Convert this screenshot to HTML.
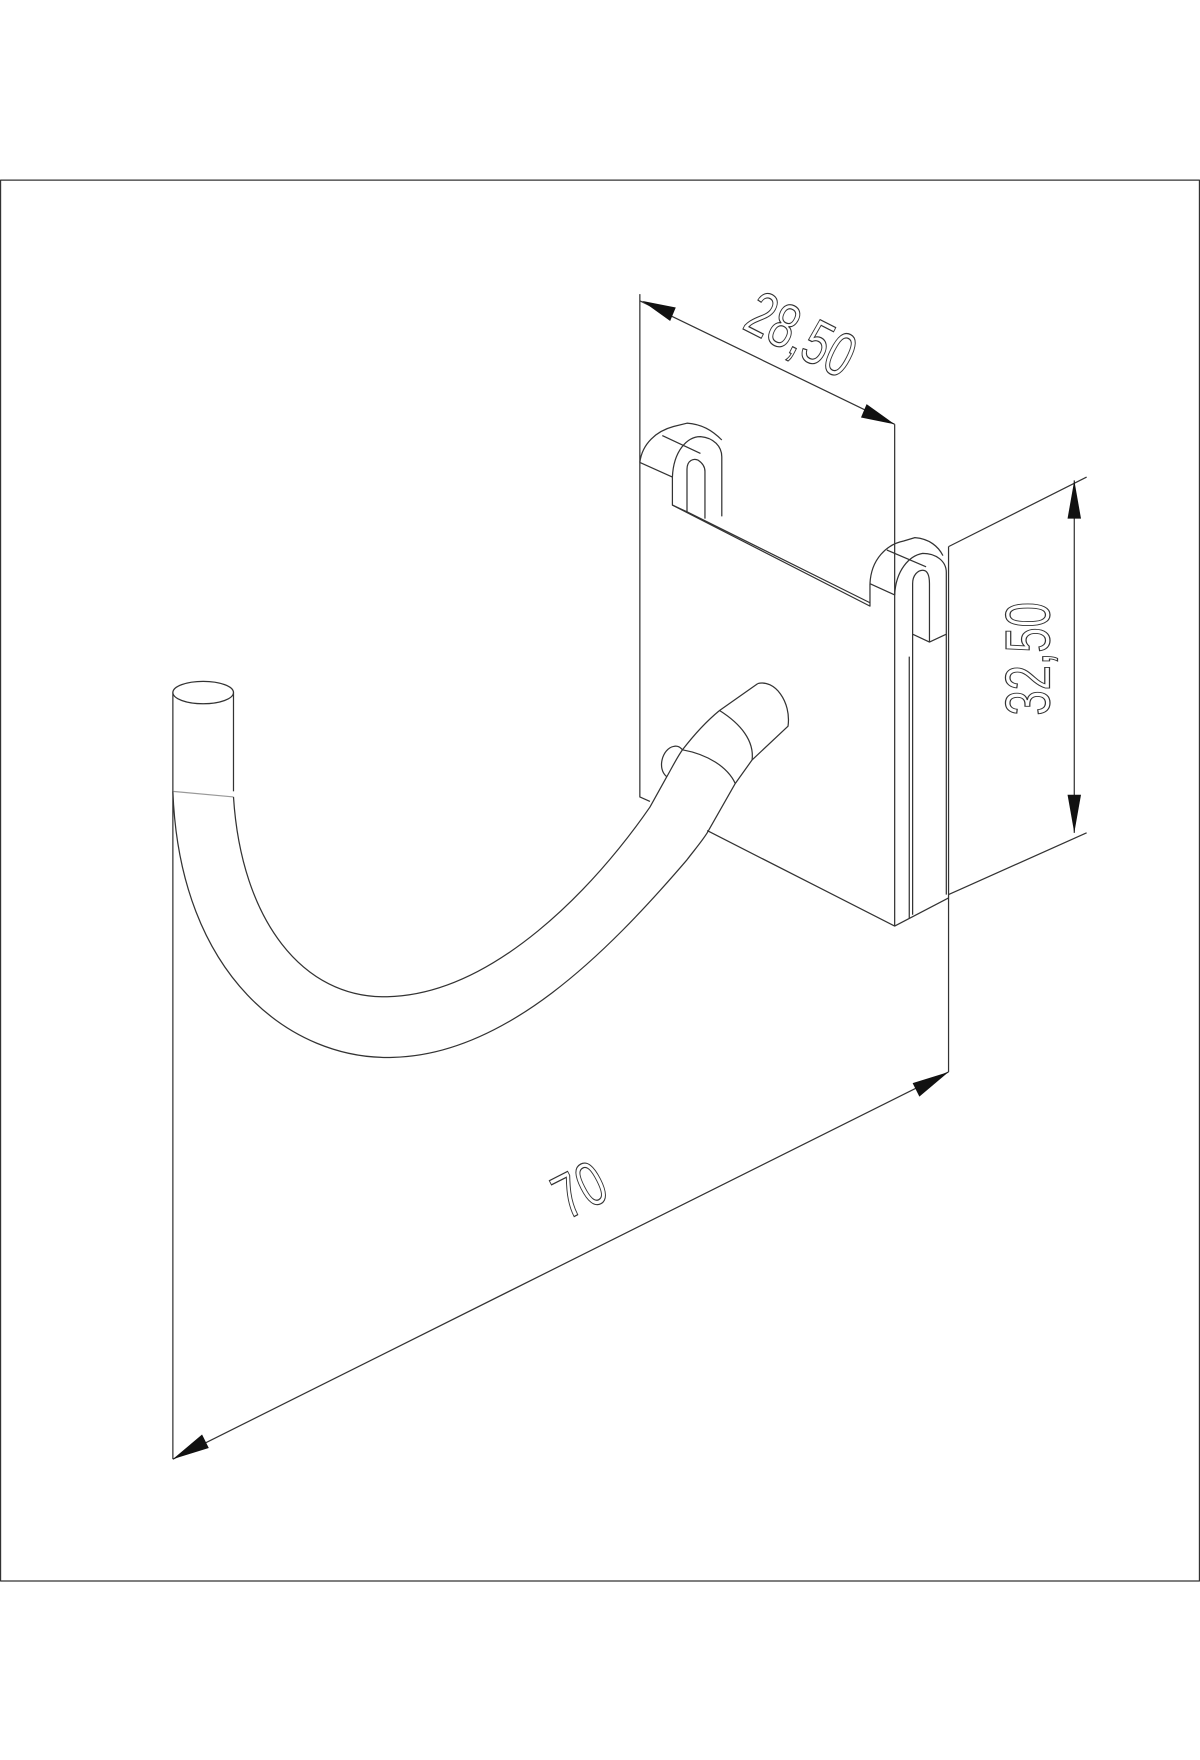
<!DOCTYPE html>
<html><head><meta charset="utf-8"><style>html,body{margin:0;padding:0;background:#fff}svg{display:block}</style></head>
<body>
<svg width="1200" height="1760" viewBox="0 0 1069 1568" preserveAspectRatio="none" xmlns="http://www.w3.org/2000/svg">
<g fill="none" stroke="#333" stroke-width="1.1" stroke-linejoin="round">
<rect x="0.5" y="160.5" width="1068" height="1248"/>
<!-- plate -->
<path d="M570 262 V710 L579 714"/>
<path d="M630 740 L797 825 V378"/>
<path d="M797 825 L845 800"/>
<path d="M845 487 V955"/>
<path d="M810 585 V818"/>
<!-- left tab -->
<path d="M570 412 C572 395 585 384 600 380 L612 377 C625 378 634 383 643 392"/>
<path d="M570 412 L599 425 C600 402 612 389 624 389 C636 390 643 398 643 407 V460"/>
<path d="M599 425 V450 L612 456 V418 C612 410 618 408 622 410 C625 412 628 415 628 420 V462"/>
<path d="M599 450 L775 540 V520"/>
<path d="M612 456 L775 537"/>
<path d="M590 388 L624 404"/>
<!-- right tab -->
<path d="M775 520 C776 498 790 485 805 482 L815 479 C828 480 836 487 840 495"/>
<path d="M775 520 L797 530 C798 508 810 495 822 493 C834 493 843 500 843 510 V565 L828 572 L813 565 V520 C813 512 818 508 822 508 C826 508 828 512 828 520 V572"/>
<path d="M790 490 L825 505"/>
<path d="M813 565 V815"/>
<path d="M843 565 V797"/>
<!-- hook -->
<ellipse cx="181" cy="617" rx="27" ry="10"/>
<path d="M154 617 V1300"/>
<path d="M208 617 V705"/>
<path d="M154 705 L208 710" stroke="#999"/>
<path d="M154 705 C160 870 260 945 350 942 C450 940 540 850 612 766 C618 758 625 750 630 742 L655 698 L670 677"/>
<path d="M208 710 C215 820 270 890 345 888 C440 886 530 790 579 719 L594 692 C598 685 603 675 608 668 C618 655 630 642 641 633 L675 609"/>
<path d="M675 609 C690 605 705 625 702 647 L670 677"/>
<path d="M641 633 C660 645 672 660 670 677"/>
<path d="M608 668 C630 672 648 683 655 698"/>
<path d="M594 692 C585 685 590 667 600 665 C604 664 606 666 608 668"/>
<!-- dimension lines -->
<path d="M570 268 L797 378"/>
<path d="M957 428 V742"/>
<path d="M845 487 L968 425"/>
<path d="M845 797 L968 742"/>
<path d="M154 1300 L845 955"/>
</g>
<g fill="#111">
<polygon points="572,268 602,274 597,286"/>
<polygon points="797,378 767,372 772,360"/>
<polygon points="957,428 951,462 963,462"/>
<polygon points="957,742 951,708 963,708"/>
<polygon points="154,1300 180,1278 186,1290"/>
<polygon points="845,955 813,965 819,977"/>
</g>
<g font-family="Liberation Sans, sans-serif" font-size="56" fill="none" stroke="#333" stroke-width="1.1">
<text x="0" y="0" text-anchor="middle" transform="translate(705,315) rotate(27) scale(0.72,1)">28,50</text>
<text x="0" y="0" text-anchor="middle" transform="translate(935,587) rotate(-90) scale(0.72,1)">32,50</text>
<text x="0" y="0" text-anchor="middle" transform="translate(525,1077) rotate(-27) scale(0.72,1)">70</text>
</g>
</svg>
</body></html>
